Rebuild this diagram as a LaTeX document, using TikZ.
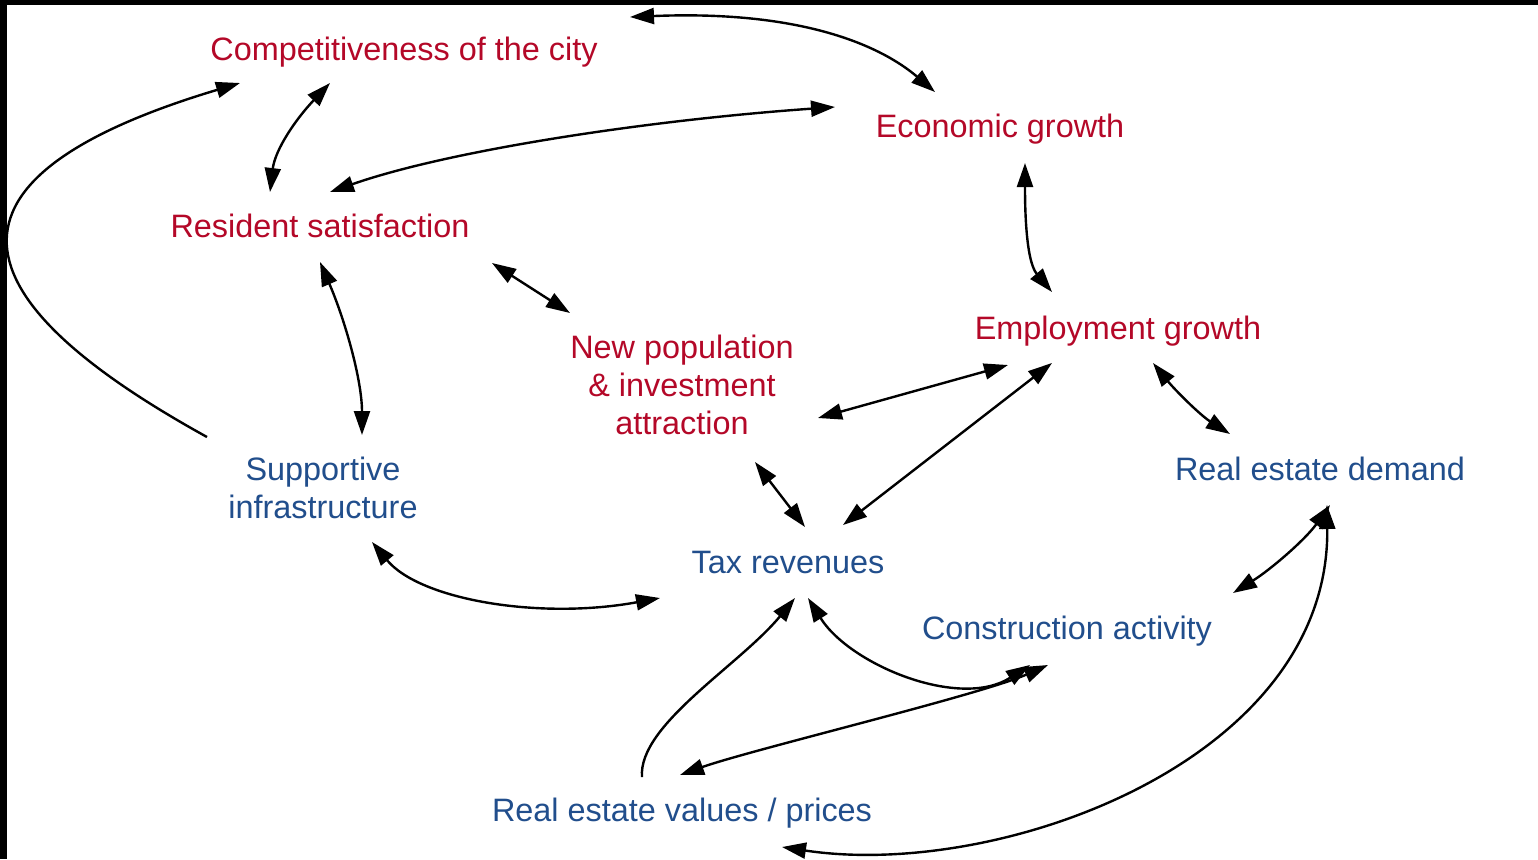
\documentclass[tikz,border=0pt]{standalone}
\usepackage{fontspec}
\setmainfont{Liberation Sans}
\usetikzlibrary{arrows.meta}
\definecolor{redtxt}{RGB}{180,8,40}
\definecolor{bluetxt}{RGB}{33,78,140}
\begin{document}
\begin{tikzpicture}[x=0.5pt,y=-0.5pt,
  lbl/.style={inner sep=0pt, anchor=base, font=\fontsize{16.2}{19}\selectfont, align=center},
  redlbl/.style={lbl, text=redtxt},
  bluelbl/.style={lbl, text=bluetxt},
  link/.style={line width=1.2pt, {Triangle[length=12pt,width=8pt]}-{Triangle[length=12pt,width=8pt]}},
  onelink/.style={line width=1.2pt, -{Triangle[length=12pt,width=8pt]}}]
\useasboundingbox (0,0) rectangle (1538,859);
\fill[white] (0,0) rectangle (1538,859);
\fill[black] (0,0) rectangle (1538,5);
\fill[black] (0,0) rectangle (7,859);

\node[redlbl] (comp) at (404,60) {Competitiveness of the city};
\node[redlbl] (econ) at (1000,137) {Economic growth};
\node[redlbl] (res) at (320,237) {Resident satisfaction};
\node[redlbl] (emp) at (1118,339) {Employment growth};
\node[redlbl] (newpop) at (682,434) {New population\\ \& investment\\ attraction};
\node[bluelbl] (red) at (1320,480) {Real estate demand};
\node[bluelbl] (sup) at (323,518) {Supportive\\ infrastructure};
\node[bluelbl] (tax) at (788,573) {Tax revenues};
\node[bluelbl] (cons) at (1067,639) {Construction activity};
\node[bluelbl] (rev) at (682,821) {Real estate values / prices};

% 1 comp <-> econ
\draw[link] ([shift={(226,-43)}]comp.base) .. controls +(170,-7) and +(-55,-47) .. ([shift={(-65,-45)}]econ.base);
% 2 comp <-> res
\draw[link] ([shift={(-74,23)}]comp.base) .. controls +(-35,37) and +(5,-42) .. ([shift={(-50,-45)}]res.base);
% 3 res <-> econ
\draw[link] ([shift={(10,-45)}]res.base) .. controls +(120,-42) and +(-185,13) .. ([shift={(-165,-30)}]econ.base);
% 4 sup -> comp
\draw[onelink] ([shift={(-116,-81)}]sup.base) .. controls +(-232,-128) and +(-337,101) .. ([shift={(-164,23)}]comp.base);
% 5 res <-> sup
\draw[link] ([shift={(0,25)}]res.base) .. controls +(25,58) and +(0,-55) .. ([shift={(39,-83)}]sup.base);
% 6 res <-> newpop
\draw[link] ([shift={(172,26)}]res.base) -- ([shift={(-112,-121)}]newpop.base);
% 7 newpop <-> emp
\draw[link] ([shift={(136,-16)}]newpop.base) -- ([shift={(-110,26)}]emp.base);
% 8 econ <-> emp
\draw[link] ([shift={(25,26)}]econ.base) .. controls +(0,37) and +(-27,-32) .. ([shift={(-66,-47)}]emp.base);
% 9 emp <-> red
\draw[link] ([shift={(35,24)}]emp.base) .. controls +(22,27) and +(-30,-19) .. ([shift={(-90,-46)}]red.base);
% 10 emp <-> tax
\draw[link] ([shift={(-66,24)}]emp.base) -- ([shift={(55,-48)}]tax.base);
% 11 newpop <-> tax
\draw[link] ([shift={(73,28)}]newpop.base) -- ([shift={(17,-46)}]tax.base);
% 12 sup <-> tax
\draw[link] ([shift={(49,24)}]sup.base) .. controls +(48,58) and +(-120,22) .. ([shift={(-128,25)}]tax.base);
% 13 red <-> cons
\draw[link] ([shift={(10,25)}]red.base) .. controls +(-25,35) and +(37,-23) .. ([shift={(166,-46)}]cons.base);
% 14 red <-> rev
\draw[link] ([shift={(7,25)}]red.base) .. controls +(3,255) and +(218,33) .. ([shift={(100,26)}]rev.base);
% 15 tax <-> cons
\draw[link] ([shift={(20,25)}]tax.base) .. controls +(42,67) and +(-70,45) .. ([shift={(-37,26)}]cons.base);
% 16 rev -> tax
\draw[onelink] ([shift={(-40,-44)}]rev.base) .. controls +(-4,-52) and +(-55,67) .. ([shift={(7,25)}]tax.base);
% 17 rev <-> cons
\draw[link] ([shift={(-2,-46)}]rev.base) .. controls +(70,-25) and +(-68,30) .. ([shift={(-19,26)}]cons.base);
\end{tikzpicture}
\end{document}
